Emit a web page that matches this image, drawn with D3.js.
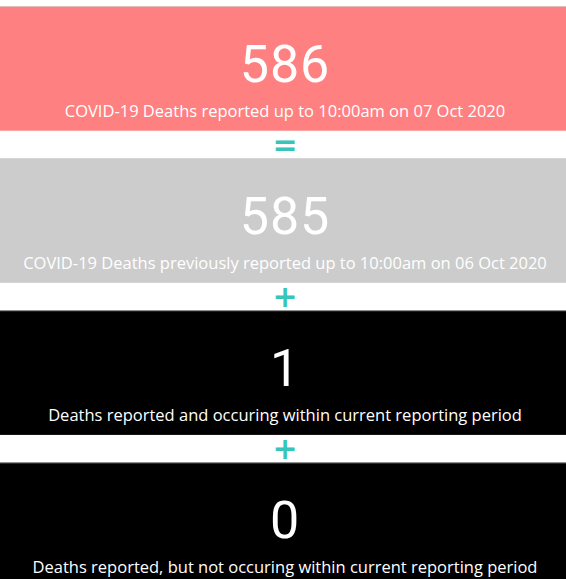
<!DOCTYPE html>
<html>
    <head>
        <title>COVID-19 Deaths cards</title>
        <script src="https://d3js.org/d3.v7.min.js"></script>
        <style>
            body { margin: 0; background: #fff; }
        </style>
    </head>
    <body>
        <script>
            // card data
            var cardKeys = ["total", "previous", "current", "notCurrent"];
            var cardValues = [586, 585, 1, 0];
            var cardLabels = [
                "COVID-19 Deaths reported up to 10:00am on 07 Oct 2020",
                "COVID-19 Deaths previously reported up to 10:00am on 06 Oct 2020",
                "Deaths reported and occuring within current reporting period",
                "Deaths reported, but not occuring within current reporting period"
            ];
            var cardColors = ["#FF8080", "#CCCCCC", "#000000", "#000000"];
            var operators = ["=", "+", "+"];

            var width = 566;
            var height = 579;

            var y = d3.scaleBand()
                      .domain(cardKeys)
                      .range([6, 587])
                      .paddingInner(0.18)
                      .paddingOuter(0);

            var svg = d3.select("body")
                        .append("svg")
                        .attr("width", width)
                        .attr("height", height);

            var cards = svg.selectAll("g.card")
                           .data(cardKeys)
                           .enter()
                              .append("g")
                              .attr("class", "card")
                              .attr("transform", function(d){ return "translate(0," + y(d) + ")"; });

            cards.append("rect")
                 .attr("width", width)
                 .attr("height", y.bandwidth())
                 .attr("fill", function(d, i){ return cardColors[i]; });

            cards.append("line")
                 .attr("x1", 0).attr("x2", width)
                 .attr("y1", 0.5).attr("y2", 0.5)
                 .attr("stroke", "#d8d8d8")
                 .attr("stroke-opacity", 0.7);

            cards.append("text")
                 .attr("x", width / 2 + 2)
                 .attr("y", 76)
                 .attr("text-anchor", "middle")
                 .attr("fill", "#fff")
                 .style("font-family", "Roboto, sans-serif")
                 .style("font-size", "52px")
                 .style("letter-spacing", "1px")
                 .text(function(d, i){ return cardValues[i]; });

            cards.append("text")
                 .attr("x", width / 2 + 2)
                 .attr("y", 111)
                 .attr("text-anchor", "middle")
                 .attr("fill", "#fff")
                 .style("font-family", "'Open Sans', sans-serif")
                 .style("font-size", "16.5px")
                 .text(function(d, i){ return cardLabels[i]; });

            // operators sit in the gaps between cards
            svg.selectAll("text.op")
               .data(operators)
               .enter()
                  .append("text")
                  .attr("class", "op")
                  .attr("x", width / 2 + 2)
                  .attr("y", function(d, i){
                        var gapTop = y(cardKeys[i]) + y.bandwidth();
                        var gapBottom = y(cardKeys[i + 1]);
                        return (gapTop + gapBottom) / 2;
                  })
                  .attr("dy", "0.35em")
                  .attr("text-anchor", "middle")
                  .attr("fill", "#37C5B9")
                  .style("font-family", "'DejaVu Sans', sans-serif")
                  .style("font-weight", "bold")
                  .style("font-size", "30px")
                  .text(function(d){ return d; });
        </script>
    </body>
</html>
